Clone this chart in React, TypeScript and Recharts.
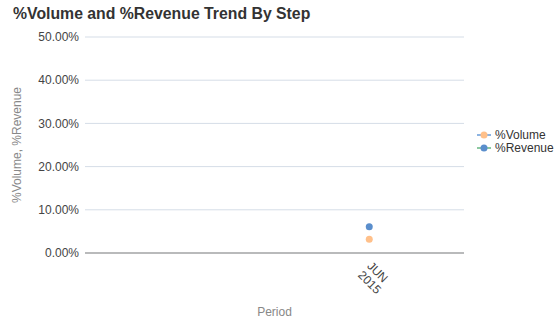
import React from 'react';
import { LineChart, Line, XAxis, YAxis, CartesianGrid, Legend } from 'recharts';

const periods = ['', 'JUN 2015'];
const volumePct = [null, 0.032];
const revenuePct = [null, 0.061];
const yTicks = [0, 0.1, 0.2, 0.3, 0.4, 0.5];

const data = periods.map((p, i) => ({ period: p, volume: volumePct[i], revenue: revenuePct[i] }));

const FONT = '"Liberation Sans", Arial, sans-serif';

const XTick = (props: any) => {
  const { x, y, payload } = props;
  if (!payload.value) return null;
  const parts = String(payload.value).split(' ');
  return (
    <g transform={`translate(${x},${y})`}>
      <text transform="rotate(45)" x={2} y={0} fontSize={12} fill="#444" fontFamily={FONT} textAnchor="start">
        {parts.map((t, i) => (
          <tspan key={i} x={2} dy={i === 0 ? 6 : 13}>{t}</tspan>
        ))}
      </text>
    </g>
  );
};

const LegendContent = () => {
  const items = [
    { name: '%Volume', dot: '#FFC08A', line: '#8DB4E2' },
    { name: '%Revenue', dot: '#5A8ECC', line: '#8CC9A0' },
  ];
  return (
    <div style={{ width: 80, fontFamily: FONT, fontSize: 12, color: '#333' }}>
      {items.map((it) => (
        <div key={it.name} style={{ display: 'flex', alignItems: 'center', height: 13 }}>
          <svg width={16} height={10} style={{ marginRight: 3 }}>
            <line x1={1} y1={5} x2={15} y2={5} stroke={it.line} strokeWidth={2} />
            <circle cx={8} cy={5} r={3.5} fill={it.dot} />
          </svg>
          <span>{it.name}</span>
        </div>
      ))}
    </div>
  );
};

export default function App() {
  return (
    <div style={{ position: 'absolute', left: 0, top: 0, width: 556, height: 322, background: '#fff' }}>
      <div style={{ position: 'absolute', left: 13, top: 5, fontFamily: FONT, fontWeight: 'bold', fontSize: 15.8, color: '#333' }}>
        %Volume and %Revenue Trend By Step
      </div>
      <LineChart width={556} height={322} data={data} margin={{ top: 37, right: 12, bottom: 0, left: 0 }}>
        <CartesianGrid vertical={false} stroke="#D5DDE7" />
        <XAxis
          dataKey="period"
          scale="band"
          height={69}
          tick={<XTick />}
          tickLine={false}
          axisLine={{ stroke: '#A8A8A8', strokeWidth: 1.5 }}
          interval={0}
          label={{ value: 'Period', position: 'insideBottom', offset: 6, fill: '#888', fontSize: 12, fontFamily: FONT }}
        />
        <YAxis
          width={85}
          domain={[0, 0.5]}
          ticks={yTicks}
          tickFormatter={(v: number) => (v * 100).toFixed(2) + '%'}
          tick={{ fill: '#444', fontSize: 12, fontFamily: FONT }}
          tickLine={false}
          axisLine={false}
          tickSize={4}
          tickMargin={2}
          label={{ value: '%Volume, %Revenue', angle: -90, position: 'insideLeft', offset: 17, fill: '#888', fontSize: 12, fontFamily: FONT, style: { textAnchor: 'middle' } }}
        />
        <Legend
          layout="vertical"
          align="right"
          verticalAlign="middle"
          content={<LegendContent />}
          wrapperStyle={{ top: 128, right: 0, left: 476, width: 80 }}
        />
        <Line dataKey="volume" name="%Volume" stroke="none" isAnimationActive={false}
          dot={{ r: 3.5, fill: '#FFC08A', stroke: 'none' }} activeDot={false} />
        <Line dataKey="revenue" name="%Revenue" stroke="none" isAnimationActive={false}
          dot={{ r: 3.5, fill: '#5A8ECC', stroke: 'none' }} activeDot={false} />
      </LineChart>
    </div>
  );
}
